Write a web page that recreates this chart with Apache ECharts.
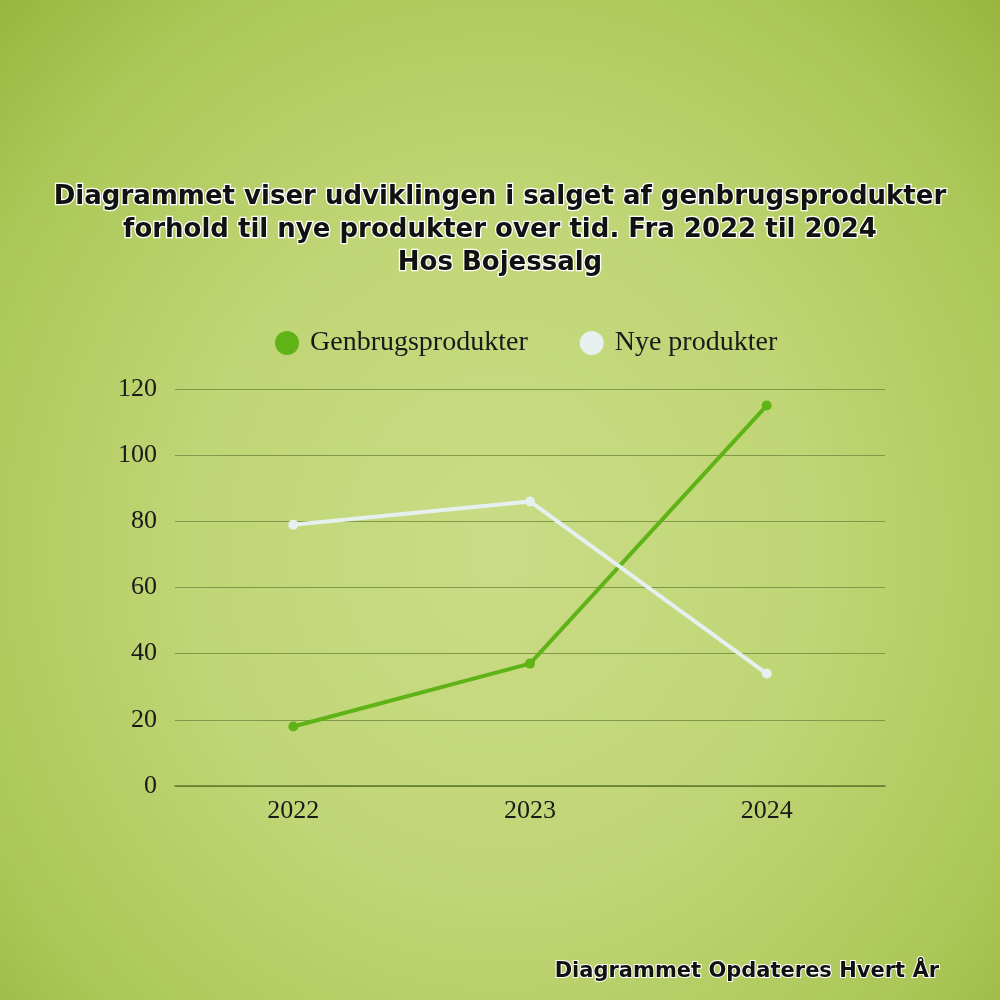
<!DOCTYPE html>
<html>
<head>
<meta charset="utf-8">
<script src="https://cdn.jsdelivr.net/npm/echarts@6/dist/echarts.min.js"></script>
<style>
  html, body { margin: 0; padding: 0; }
  body {
    width: 1000px; height: 1000px;
    background: radial-gradient(ellipse at 50% 55%, #cadc86 0%, #c0d575 45%, #abc757 80%, #98b63e 100%);
  }
  #chart { width: 1000px; height: 1000px; }
</style>
</head>
<body>
<div id="chart"></div>
<script>
  // <!-- Salg data -->
  const years = ['2022', '2023', '2024'];
  const genbrug = [18, 37, 115];
  const nye = [79, 86, 34];
  const yTicks = [0, 20, 40, 60, 80, 100, 120];

  document.addEventListener("DOMContentLoaded", () => {
    echarts.init(document.querySelector("#chart")).setOption({
      backgroundColor: 'transparent',
      title: [{
        text: 'Diagrammet viser udviklingen i salget af genbrugsprodukter\nforhold til nye produkter over tid. Fra 2022 til 2024\nHos Bojessalg',
        left: 'center',
        top: 176,
        textStyle: {
          fontFamily: 'DejaVu Sans',
          fontWeight: 'bold',
          fontSize: 26,
          lineHeight: 33,
          color: '#111',
          textBorderColor: '#fff',
          textBorderWidth: 2.5
        }
      }, {
        text: 'Diagrammet Opdateres Hvert År',
        right: 54,
        top: 956,
        textStyle: {
          fontFamily: 'DejaVu Sans',
          fontWeight: 'bold',
          fontSize: 21,
          color: '#111',
          textBorderColor: '#fff',
          textBorderWidth: 2
        }
      }],
      legend: {
        top: 324,
        left: 270,
        itemGap: 52,
        itemWidth: 24,
        itemHeight: 24,
        icon: 'circle',
        textStyle: {
          fontFamily: 'Liberation Serif',
          fontSize: 28,
          color: '#1a1a1a',
          padding: [0, 0, 0, 6]
        },
        data: ['Genbrugsprodukter', 'Nye produkter']
      },
      grid: {
        left: 175,
        right: 115,
        top: 389,
        bottom: 214
      },
      xAxis: {
        type: 'category',
        data: years,
        axisTick: { show: false },
        axisLine: { lineStyle: { color: '#5f7a2e', width: 1.5 } },
        axisLabel: {
          margin: 12,
          fontFamily: 'Liberation Serif',
          fontSize: 26,
          color: '#1a1a1a'
        }
      },
      yAxis: {
        type: 'value',
        min: yTicks[0],
        max: yTicks[yTicks.length - 1],
        interval: 20,
        axisLine: { show: false },
        axisTick: { show: false },
        splitLine: { lineStyle: { color: '#7f9a48', width: 1 } },
        axisLabel: {
          margin: 18,
          fontFamily: 'Liberation Serif',
          fontSize: 26,
          color: '#1a1a1a'
        }
      },
      series: [{
        name: 'Genbrugsprodukter',
        type: 'line',
        data: genbrug,
        symbol: 'circle',
        symbolSize: 10,
        color: '#5fb317',
        lineStyle: { width: 4, color: '#5fb317' }
      }, {
        name: 'Nye produkter',
        type: 'line',
        data: nye,
        symbol: 'circle',
        symbolSize: 10,
        color: '#e6f0ef',
        lineStyle: { width: 4, color: '#e6f0ef' }
      }]
    })
  })
</script>
</body>
</html>
